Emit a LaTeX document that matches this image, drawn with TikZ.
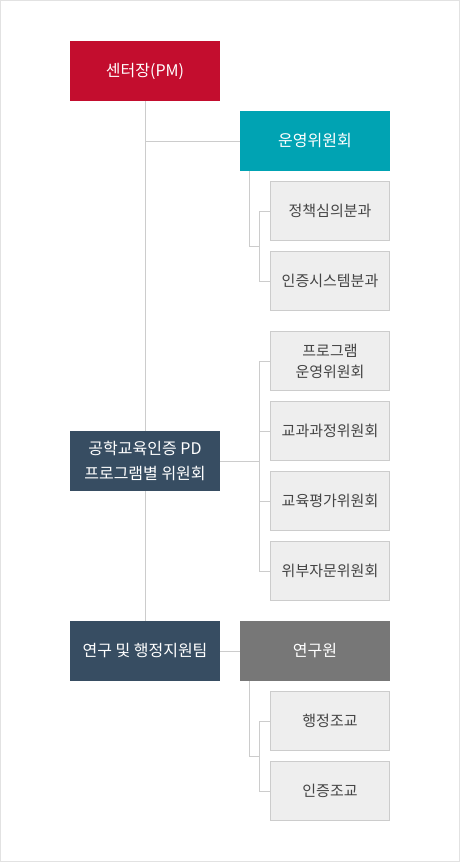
\documentclass[tikz,border=0pt]{standalone}
\usepackage{fontspec}
\newfontfamily\kr{Noto Sans CJK KR}
\definecolor{cred}{HTML}{C30D2E}
\definecolor{cteal}{HTML}{00A3B3}
\definecolor{cnavy}{HTML}{374D62}
\definecolor{cgray}{HTML}{777777}
\definecolor{cline}{HTML}{CCCCCC}
\definecolor{cbox}{HTML}{EEEEEE}
\definecolor{ctext}{HTML}{444444}
\definecolor{cframe}{HTML}{E2E2E2}
\tikzset{
  head/.style={inner sep=0pt, minimum width=150pt, minimum height=60pt, text=white, align=center, font=\kr\fontsize{16}{25}\selectfont},
  sub/.style={inner sep=0pt, draw=cline, line width=1pt, fill=cbox, minimum width=119pt, minimum height=59pt, text=ctext, align=center, font=\kr\fontsize{15}{21}\selectfont},
  conn/.style={draw=cline, line width=1pt},
}
\begin{document}
\begin{tikzpicture}[x=1pt,y=-1pt]
\useasboundingbox (0,0) rectangle (460,862);
\draw[cframe, line width=1pt] (0.5,0.5) rectangle (459.5,861.5);
% header nodes
\node[head, fill=cred] (pm) at (145,71) {센터장(PM)};
\node[head, fill=cteal] (ops) at (315,141) {운영위원회};
\node[head, fill=cgray] (res) at (315,651) {연구원};
% sub boxes
\node[sub] (s1) at (330,211) {정책심의분과};
\node[sub] (s2) at (330,281) {인증시스템분과};
\node[sub] (p1) at (330,361) {프로그램\\운영위원회};
\node[sub] (p2) at (330,431) {교과과정위원회};
\node[sub] (p3) at (330,501) {교육평가위원회};
\node[sub] (p4) at (330,571) {위부자문위원회};
\node[sub] (a1) at (330,721) {행정조교};
\node[sub] (a2) at (330,791) {인증조교};
% junctions
\coordinate (b1) at (259.5,246);
\coordinate (b2) at (259.5,461);
\coordinate (b3) at (259.5,756);
% connectors
\node[head, fill=cnavy] (team) at (145,651) {연구 및 행정지원팀};
\draw[conn] (pm.south) -- (team.north);
\node[head, fill=cnavy] (pd) at (145,461) {공학교육인증 PD\\프로그램별 위원회};
\draw[conn] (pm.south |- ops.west) -- (ops.west);
\draw[conn] ([xshift=9.5pt]ops.south west) |- (b1);
\draw[conn] (s1.west) -| (b1);
\draw[conn] (s2.west) -| (b1);
\draw[conn] (pd.east) -- (b2);
\draw[conn] (p1.west) -| (b2);
\draw[conn] (p2.west) -| (b2);
\draw[conn] (p3.west) -| (b2);
\draw[conn] (p4.west) -| (b2);
\draw[conn] (team.east) -- (res.west);
\draw[conn] ([xshift=9.5pt]res.south west) |- (b3);
\draw[conn] (a1.west) -| (b3);
\draw[conn] (a2.west) -| (b3);
\end{tikzpicture}
\end{document}
